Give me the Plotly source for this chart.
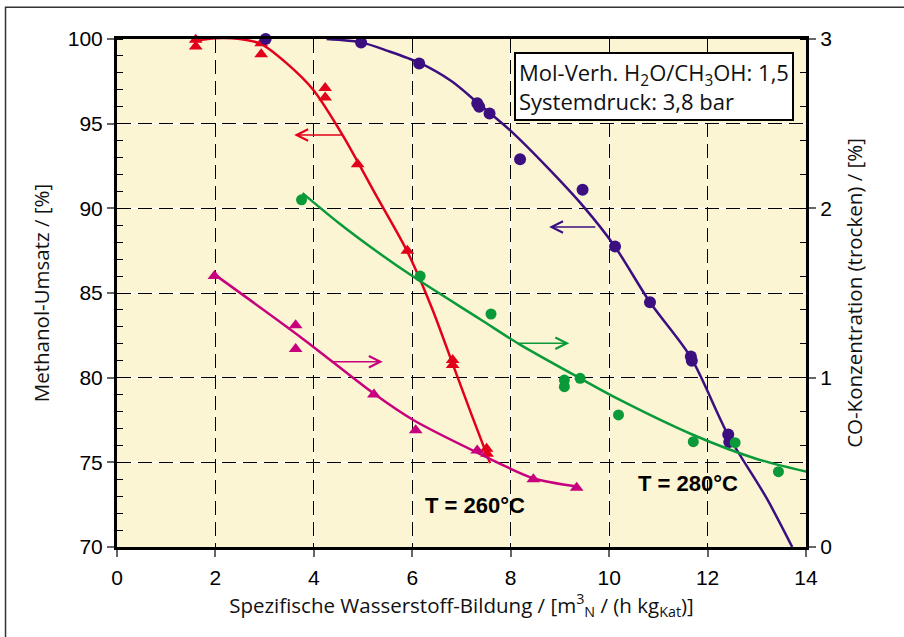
import plotly.graph_objects as go

# ---------------- data ----------------
# T = 260 °C, methanol conversion (left axis) - red triangles
red_x = [1.60, 1.60, 2.93, 2.93, 4.23, 4.23, 4.89, 5.90, 6.82, 6.82, 7.51, 7.52]
red_y = [99.95, 99.55, 99.75, 99.1, 97.1, 96.55, 92.6, 87.5, 81.05, 80.75, 75.8, 75.5]
red_fit_x = [1.60, 2.0, 2.5, 2.93, 3.45, 3.99, 4.59, 5.28, 5.89, 6.40, 6.83, 7.20, 7.58]
red_fit_y = [99.9, 100.05, 100.0, 99.7, 98.56, 96.99, 94.3, 90.69, 87.5, 84.1, 80.74, 77.85, 74.95]

# T = 280 °C, methanol conversion (left axis) - purple circles
blue_x = [3.02, 4.96, 6.14, 7.32, 7.36, 7.57, 8.19, 9.46, 10.12, 10.83, 11.66, 11.68, 12.42, 12.44]
blue_y = [100.0, 99.8, 98.55, 96.2, 96.0, 95.6, 92.9, 91.1, 87.75, 84.45, 81.25, 81.0, 76.65, 76.2]
blue_fit_x = [4.26, 4.96, 5.50, 6.14, 6.80, 7.38, 7.99, 8.73, 9.48, 10.12, 10.83, 11.66, 12.42, 13.20, 13.72]
blue_fit_y = [100.0, 99.8, 99.3, 98.6, 97.5, 96.1, 94.6, 92.46, 90.1, 87.73, 84.45, 81.2, 76.6, 72.88, 70.0]

# T = 280 °C, CO concentration (right axis) - green circles
green_x = [3.75, 6.16, 7.60, 9.09, 9.09, 9.41, 10.19, 11.71, 12.56, 13.44]
green_y = [2.05, 1.60, 1.376, 0.986, 0.947, 0.996, 0.78, 0.622, 0.616, 0.445]
green_fit_x = [3.77, 4.50, 5.28, 6.00, 7.38, 8.19, 9.41, 10.19, 11.70, 13.00, 14.00]
green_fit_y = [2.09, 1.915, 1.745, 1.60, 1.345, 1.195, 0.996, 0.873, 0.663, 0.52, 0.445]

# T = 260 °C, CO concentration (right axis) - magenta triangles
mag_x = [1.98, 3.63, 3.63, 5.22, 6.07, 7.32, 8.46, 9.34]
mag_y = [1.60, 1.31, 1.17, 0.90, 0.69, 0.57, 0.40, 0.35]
mag_fit_x = [1.98, 3.72, 5.21, 6.02, 7.38, 8.46, 9.37]
mag_fit_y = [1.61, 1.242, 0.908, 0.75, 0.549, 0.406, 0.356]

x_ticks = [0, 2, 4, 6, 8, 10, 12, 14]
y_left_ticks = [70, 75, 80, 85, 90, 95, 100]
y_right_ticks = [0, 1, 2, 3]

RED = "#e2001a"
BLUE = "#3b0f80"
GREEN = "#0a9a3a"
MAG = "#c8007e"
BG = "#fbf5d3"

# arrows: (tail_x, tip_x, y, axis, colour)
arrows = [
    (4.60, 3.60, 94.33, "y", RED),
    (9.75, 8.78, 88.9, "y", BLUE),
    (4.33, 5.40, 1.094, "y2", MAG),
    (8.12, 9.19, 1.203, "y2", GREEN),
]

fig = go.Figure()

# fit curves
for fx, fy, col, ax in [(red_fit_x, red_fit_y, RED, "y"), (blue_fit_x, blue_fit_y, BLUE, "y"),
                        (green_fit_x, green_fit_y, GREEN, "y2"), (mag_fit_x, mag_fit_y, MAG, "y2")]:
    fig.add_trace(go.Scatter(x=fx, y=fy, mode="lines",
                             line=dict(color=col, width=2.5, shape="spline", smoothing=0.8),
                             yaxis=ax, showlegend=False, hoverinfo="skip"))

# markers
fig.add_trace(go.Scatter(x=red_x, y=red_y, mode="markers", cliponaxis=False,
                         marker=dict(symbol="triangle-up", size=12, color=RED),
                         yaxis="y", showlegend=False))
fig.add_trace(go.Scatter(x=blue_x, y=blue_y, mode="markers", cliponaxis=False,
                         marker=dict(symbol="circle", size=12, color=BLUE),
                         yaxis="y", showlegend=False))
fig.add_trace(go.Scatter(x=green_x, y=green_y, mode="markers", cliponaxis=False,
                         marker=dict(symbol="circle", size=11, color=GREEN),
                         yaxis="y2", showlegend=False))
fig.add_trace(go.Scatter(x=mag_x, y=mag_y, mode="markers", cliponaxis=False,
                         marker=dict(symbol="triangle-up", size=12, color=MAG),
                         yaxis="y2", showlegend=False))

annotations = []
for tail_x, tip_x, yv, ax_name, col in arrows:
    annotations.append(dict(
        x=tip_x, y=yv, ax=tail_x, ay=yv, xref="x", yref=ax_name,
        axref="x", ayref=ax_name, text="", showarrow=True,
        arrowhead=5, arrowsize=1.5, arrowwidth=1.5, arrowcolor=col,
        standoff=0, startstandoff=0))

annotations.append(dict(
    x=0.9826, y=0.974, xref="paper", yref="paper", xanchor="right", yanchor="top",
    text="Mol-Verh. H<sub>2</sub>O/CH<sub>3</sub>OH: 1,5<br>Systemdruck: 3,8 bar",
    align="left", showarrow=False, bgcolor="white", bordercolor="black",
    borderwidth=2, borderpad=3,
    font=dict(family="Open Sans", size=22, color="#111")))
annotations.append(dict(x=7.27, y=72.47, xref="x", yref="y", text="<b>T = 260°C</b>",
                        showarrow=False,
                        font=dict(family="Liberation Sans Narrow, Liberation Sans", size=22, color="black")))
annotations.append(dict(x=11.6, y=73.77, xref="x", yref="y", text="<b>T = 280°C</b>",
                        showarrow=False,
                        font=dict(family="Liberation Sans Narrow, Liberation Sans", size=22, color="black")))

shapes = []
# white solid grid underlay (gaps of the dashed grid appear white)
for xv in x_ticks[1:-1]:
    shapes.append(dict(type="line", xref="x", yref="paper", x0=xv, x1=xv, y0=0, y1=1,
                       line=dict(color="white", width=1.2), layer="below"))
for yv in y_left_ticks[1:-1]:
    shapes.append(dict(type="line", xref="paper", yref="y", x0=0, x1=1, y0=yv, y1=yv,
                       line=dict(color="white", width=1.2), layer="below"))
# outer picture frame
shapes.append(dict(type="rect", xref="paper", yref="paper", x0=-0.1618, x1=1.16,
                   y0=-0.2, y1=1.0624, line=dict(color="#333", width=1.5), layer="below"))

tickfont = dict(family="Liberation Sans, Arial", size=21, color="black")
titlefont = dict(family="Open Sans", size=20.5, color="#111")

fig.update_layout(
    width=904, height=637,
    margin=dict(l=117, r=98, t=39, b=90),
    paper_bgcolor="white", plot_bgcolor=BG,
    annotations=annotations, shapes=shapes,
    xaxis=dict(range=[0, 14], tickvals=x_ticks, ticks="outside", ticklen=7,
               tickcolor="#666", tickwidth=1.5, showline=True, linecolor="black",
               linewidth=3, mirror=True, showgrid=True, gridcolor="black",
               gridwidth=1, griddash="14px,7px", zeroline=False, tickfont=tickfont,
               ticklabelstandoff=3,
               title=dict(text="Spezifische Wasserstoff-Bildung / [m<sup>3</sup><sub>N</sub> / (h kg<sub>Kat</sub>)]",
                          font=titlefont, standoff=7)),
    yaxis=dict(range=[70, 100], tickvals=y_left_ticks, ticks="outside", ticklen=7,
               tickcolor="#666", tickwidth=1.5, showline=True, linecolor="black",
               linewidth=3, mirror=True, showgrid=True, gridcolor="black",
               gridwidth=1, griddash="14px,7px", zeroline=False, tickfont=tickfont,
               minor=dict(dtick=1, tick0=70, ticks="inside", ticklen=6, tickcolor="black",
                          tickwidth=1.2, showgrid=False),
               title=dict(text="Methanol-Umsatz / [%]", font=titlefont, standoff=13)),
    yaxis2=dict(range=[0, 3], tickvals=y_right_ticks, overlaying="y", side="right",
                ticks="outside", ticklen=7, tickcolor="#666", tickwidth=1.5,
                showline=True, linecolor="black", linewidth=3, showgrid=False,
                zeroline=False, tickfont=tickfont,
                minor=dict(dtick=0.2, tick0=0, ticks="inside", ticklen=6, tickcolor="black",
                           tickwidth=1.2, showgrid=False),
                title=dict(text="CO-Konzentration (trocken) / [%]", font=titlefont, standoff=17)),
)

fig.write_html("out.html", config={"displayModeBar": False},
               post_script="document.body.style.margin='0px';")
